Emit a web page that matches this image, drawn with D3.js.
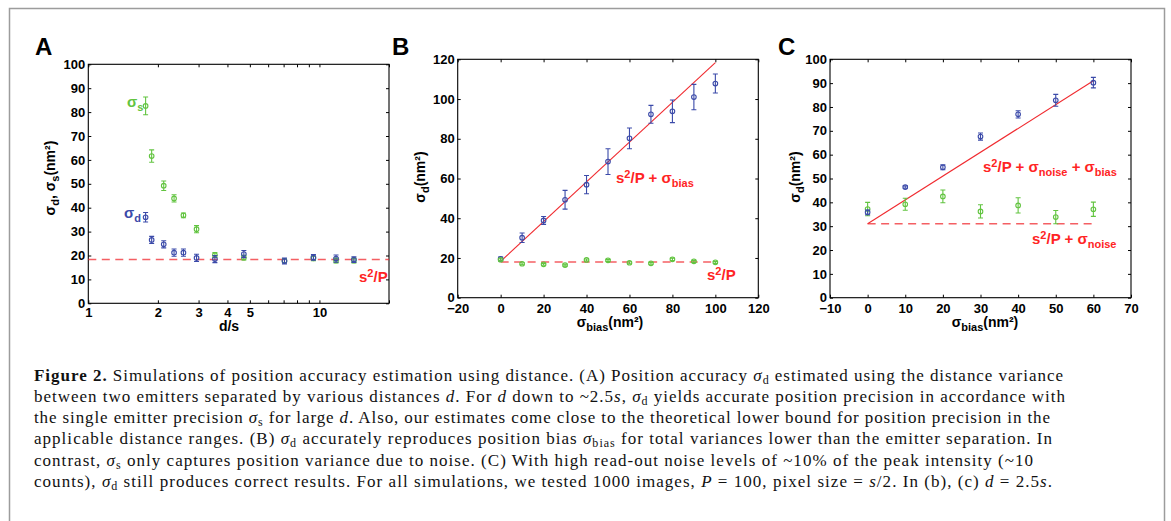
<!DOCTYPE html>
<html>
<head>
<meta charset="utf-8">
<script src="https://cdn.jsdelivr.net/npm/d3@7"></script>
<style>
  body { margin: 0; background: #fff; }
  text { font-family: "Liberation Sans", Arial, sans-serif; }
</style>
</head>
<body>
<svg id="fig" width="1171" height="521"></svg>
<script>
// ---- panel A : sigma vs emitter distance (log x)
var distA      = [1.77, 1.88, 2.12, 2.35, 2.58, 2.94, 3.53, 4.71, 7.06, 9.42, 11.8, 14.1];
var sigSA      = [82.6, 61.6, 49.2, 43.9, 36.8, 31.0, 20.2, 19.1, 17.8, 18.8, 17.9, 17.9];
var sigSAerr   = [3.7, 2.6, 2.0, 1.5, 1.0, 1.5, 1.0, 1.0, 0.8, 1.0, 1.0, 1.0];
var sigDA      = [36.0, 26.5, 24.7, 21.2, 21.2, 19.0, 18.5, 20.6, 17.7, 19.2, 18.7, 18.3];
var sigDAerr   = [2.0, 1.5, 1.5, 1.5, 1.5, 1.5, 1.5, 1.5, 1.2, 1.2, 1.5, 1.2];
var boundA     = 18.3;
var xTicksA    = [1, 2, 3, 4, 5, 6, 7, 8, 9, 10, 20];
var xLabelsA   = [1, 2, 3, 4, 5, 10];
var yTicksA    = [0, 10, 20, 30, 40, 50, 60, 70, 80, 90, 100];

// ---- panel B : sigma_d vs sigma_bias
var biasB      = [0, 10, 20, 30, 40, 50, 60, 70, 80, 90, 100];
var sigDB      = [19.5, 30.2, 38.9, 49.3, 56.9, 68.5, 80.2, 92.3, 93.8, 101.0, 107.8];
var sigDBerr   = [1.0, 2.4, 2.0, 4.7, 4.6, 6.5, 5.2, 4.5, 5.7, 6.4, 4.8];
var sigSB      = [19.1, 17.1, 16.8, 16.4, 19.0, 18.8, 17.6, 17.3, 19.3, 18.3, 17.8];
var sigSBerr   = [0.5, 0.5, 0.5, 0.5, 0.5, 0.5, 0.5, 0.5, 0.6, 0.5, 0.5];
var boundB     = 18.3;
var xTicksB    = [-20, 0, 20, 40, 60, 80, 100, 120];
var yTicksB    = [0, 20, 40, 60, 80, 100, 120];

// ---- panel C : with read-out noise
var biasC      = [0, 10, 20, 30, 40, 50, 60];
var sigDC      = [35.8, 46.4, 54.7, 67.6, 76.9, 82.8, 90.2];
var sigDCerr   = [1.0, 0.5, 1.0, 1.5, 1.5, 2.5, 2.2];
var sigSC      = [37.2, 39.2, 42.5, 36.2, 38.7, 33.8, 37.1];
var sigSCerr   = [2.8, 2.5, 2.7, 2.8, 3.2, 2.8, 3.0];
var boundC     = 31;
var xTicksC    = [-10, 0, 10, 20, 30, 40, 50, 60, 70];
var yTicksC    = [0, 10, 20, 30, 40, 50, 60, 70, 80, 90, 100];

var BLUE = "#3b4aa9", GREEN = "#62c440", RED = "#f02a2f", REDTXT = "#ff2424";

var svg = d3.select("#fig");

// frame around the figure
svg.append("rect").attr("x", 9.5).attr("y", 8.5).attr("width", 1155).attr("height", 530)
  .attr("fill", "none").attr("stroke", "#9c9c9c").attr("stroke-width", 1.5);

// text with sub/superscripts; parts: {t, sub, sup, i, b, fs}
function rich(txt, parts, subFs, subDy, supDy) {
  var cur = 0;
  parts.forEach(function(p) {
    if (typeof p === "string") p = { t: p };
    var target = p.sub ? subDy : (p.sup ? -supDy : 0);
    var ts = txt.append("tspan").text(p.t);
    if (target !== cur) ts.attr("dy", target - cur);
    cur = target;
    if (p.sub || p.sup) ts.style("font-size", subFs + "px");
    if (p.fs) ts.style("font-size", p.fs + "px");
    if (p.i) ts.style("font-style", "italic");
    if (p.b) ts.style("font-weight", "bold");
  });
  return txt;
}

function panel(o) {
  var g = svg.append("g");
  var x = o.x, y = o.y;
  var L = x.range()[0], R = x.range()[1], B = y.range()[0], T = y.range()[1];

  var fmt = o.xfmt || function(d) { return d3.format("")(d).replace("-", "\u2212"); };
  g.append("g").attr("transform", "translate(0," + B + ")")
    .call(d3.axisBottom(x).tickValues(o.xticks).tickSize(-3).tickSizeOuter(0).tickPadding(o.xpad).tickFormat(fmt));
  g.append("g").attr("transform", "translate(0," + T + ")")
    .call(d3.axisTop(x).tickValues(o.xticks).tickSize(-3).tickSizeOuter(0).tickFormat(""));
  g.append("g").attr("transform", "translate(" + L + ",0)")
    .call(d3.axisLeft(y).tickValues(o.yticks).tickSize(-3).tickSizeOuter(0).tickPadding(3));
  g.append("g").attr("transform", "translate(" + R + ",0)")
    .call(d3.axisRight(y).tickValues(o.yticks).tickSize(-3).tickSizeOuter(0).tickFormat(""));
  g.selectAll(".domain").remove();
  g.selectAll(".tick line").attr("stroke", "#000");
  g.selectAll(".tick text").style("font-size", "13px").style("font-weight", "bold")
    .style("font-family", "'Liberation Sans', Arial, sans-serif").attr("fill", "#000");
  g.append("rect").attr("x", L).attr("y", T).attr("width", R - L).attr("height", B - T)
    .attr("fill", "none").attr("stroke", "#000").attr("stroke-width", 1.1);

  // theory lines
  (o.lines || []).forEach(function(l) {
    g.append("line").attr("x1", x(l.x0)).attr("x2", x(l.x1)).attr("y1", y(l.y0)).attr("y2", y(l.y1))
      .attr("stroke", RED).attr("stroke-width", l.dash ? 1.6 : 1.1)
      .attr("stroke-opacity", l.dash ? 0.75 : 1)
      .attr("stroke-dasharray", l.dash ? "8,5.5" : null);
  });

  // series with error bars
  o.series.forEach(function(s) {
    var sg = g.append("g").attr("stroke", s.color).attr("fill", "none").attr("stroke-width", 1.1);
    var pts = s.xs.map(function(v, i) { return { x: v, y: s.ys[i], e: s.err[i] }; });
    sg.selectAll(".eb").data(pts).enter().append("path")
      .attr("d", function(d) {
        var cx = x(d.x), y0 = y(d.y - d.e), y1 = y(d.y + d.e);
        return "M" + cx + "," + y0 + "V" + y1 +
               "M" + (cx - 2.5) + "," + y0 + "H" + (cx + 2.5) +
               "M" + (cx - 2.5) + "," + y1 + "H" + (cx + 2.5);
      });
    sg.selectAll("circle").data(pts).enter().append("circle")
      .attr("cx", function(d) { return x(d.x); })
      .attr("cy", function(d) { return y(d.y); })
      .attr("r", 2.3);
  });

  // panel letter
  g.append("text").attr("x", o.letter[1]).attr("y", 55).text(o.letter[0])
    .style("font-size", "24px").style("font-weight", "bold");

  // axis titles
  rich(g.append("text").attr("text-anchor", "middle").attr("x", o.xlab[1]).attr("y", o.xlab[2])
    .style("font-size", "14px").style("font-weight", "bold"), o.xlab[0], 11, 4, 5);
  rich(g.append("text").attr("text-anchor", "middle")
    .attr("transform", "translate(" + o.ylab[1] + "," + o.ylab[2] + ") rotate(-90)")
    .style("font-size", "14px").style("font-weight", "bold"), o.ylab[0], 11, 4, 5);

  (o.notes || []).forEach(function(n) {
    rich(g.append("text").attr("x", n.x).attr("y", n.y).attr("fill", n.color)
      .style("font-size", "15px").style("font-weight", "bold"), n.parts, 11, 4, 5);
  });
}

var s2P = ["s", { t: "2", sup: true, fs: 11 }, "/P"];

// ---------- A
var xA = d3.scaleLog().domain([1, 20]).range([88.3, 389]);
var yA = d3.scaleLinear().domain([0, 100]).range([303.3, 64.3]);
panel({
  x: xA, y: yA, xticks: xTicksA, yticks: yTicksA, xpad: 4,
  xfmt: function(d) { return xLabelsA.indexOf(d) >= 0 ? d : ""; },
  lines: [{ x0: 1, x1: 20, y0: boundA, y1: boundA, dash: true }],
  series: [
    { xs: distA, ys: sigSA, err: sigSAerr, color: GREEN },
    { xs: distA, ys: sigDA, err: sigDAerr, color: BLUE }
  ],
  letter: ["A", 35],
  xlab: [["d/s"], 229, 330.5],
  ylab: [["\u03c3", { t: "d", sub: true }, ", \u03c3", { t: "s", sub: true }, "(nm\u00b2)"], 55, 178],
  notes: [
    { x: 359, y: 282, color: REDTXT, parts: s2P },
    { x: 127, y: 107, color: GREEN, parts: ["\u03c3", { t: "s", sub: true }] },
    { x: 124, y: 218, color: BLUE, parts: ["\u03c3", { t: "d", sub: true }] }
  ]
});

// ---------- B
var xB = d3.scaleLinear().domain([-20, 120]).range([457.7, 758.3]);
var yB = d3.scaleLinear().domain([0, 120]).range([297.7, 59.3]);
panel({
  x: xB, y: yB, xticks: xTicksB, yticks: yTicksB, xpad: 6,
  lines: [
    { x0: biasB[0], x1: biasB[biasB.length - 1], y0: boundB + biasB[0], y1: boundB + biasB[biasB.length - 1] },
    { x0: biasB[0], x1: biasB[biasB.length - 1], y0: 18, y1: 18, dash: true }
  ],
  series: [
    { xs: biasB, ys: sigDB, err: sigDBerr, color: BLUE },
    { xs: biasB, ys: sigSB, err: sigSBerr, color: GREEN }
  ],
  letter: ["B", 392],
  xlab: [["\u03c3", { t: "bias", sub: true }, "(nm\u00b2)"], 610, 327],
  ylab: [["\u03c3", { t: "d", sub: true }, "(nm\u00b2)"], 425, 177],
  notes: [
    { x: 616, y: 183, color: REDTXT, parts: s2P.concat([" + \u03c3", { t: "bias", sub: true }]) },
    { x: 707, y: 280, color: REDTXT, parts: s2P }
  ]
});

// ---------- C
var xC = d3.scaleLinear().domain([-10, 70]).range([830, 1131]);
var yC = d3.scaleLinear().domain([0, 100]).range([297.7, 59.3]);
panel({
  x: xC, y: yC, xticks: xTicksC, yticks: yTicksC, xpad: 6,
  lines: [
    { x0: biasC[0], x1: biasC[biasC.length - 1], y0: boundC + biasC[0], y1: boundC + biasC[biasC.length - 1] },
    { x0: biasC[0], x1: biasC[biasC.length - 1], y0: boundC, y1: boundC, dash: true }
  ],
  series: [
    { xs: biasC, ys: sigSC, err: sigSCerr, color: GREEN },
    { xs: biasC, ys: sigDC, err: sigDCerr, color: BLUE }
  ],
  letter: ["C", 778],
  xlab: [["\u03c3", { t: "bias", sub: true }, "(nm\u00b2)"], 985, 327],
  ylab: [["\u03c3", { t: "d", sub: true }, "(nm\u00b2)"], 800, 177],
  notes: [
    { x: 983, y: 172, color: REDTXT, parts: s2P.concat([" + \u03c3", { t: "noise", sub: true }, " + \u03c3", { t: "bias", sub: true }]) },
    { x: 1032, y: 244, color: REDTXT, parts: s2P.concat([" + \u03c3", { t: "noise", sub: true }]) }
  ]
});

// ---------- caption
var sd = [{ t: "\u03c3", i: true }, { t: "d", sub: true }];
var ss = [{ t: "\u03c3", i: true }, { t: "s", sub: true }];
var caption = [
  [[{ t: "Figure 2.", b: true }, " Simulations of position accuracy estimation using distance. (A) Position accuracy "].concat(sd, [" estimated using the distance variance"]), 1029],
  [["between two emitters separated by various distances ", { t: "d", i: true }, ". For ", { t: "d", i: true }, " down to ~2.5", { t: "s", i: true }, ", "].concat(sd, [" yields accurate position precision in accordance with"]), 1031],
  [["the single emitter precision "].concat(ss, [" for large ", { t: "d", i: true }, ". Also, our estimates come close to the theoretical lower bound for position precision in the"]), 1016],
  [["applicable distance ranges. (B) "].concat(sd, [" accurately reproduces position bias ", { t: "\u03c3", i: true }, { t: "bias", sub: true }, " for total variances lower than the emitter separation. In"]), 1018],
  [["contrast, "].concat(ss, [" only captures position variance due to noise. (C) With high read-out noise levels of ~10% of the peak intensity (~10"]), 999],
  [["counts), "].concat(sd, [" still produces correct results. For all simulations, we tested 1000 images, ", { t: "P", i: true }, " = 100, pixel size = ", { t: "s", i: true }, "/2. In (b), (c) ", { t: "d", i: true }, " = 2.5", { t: "s", i: true }, "."]), 1018]
];
caption.forEach(function(c, i) {
  var t = svg.append("text").attr("x", 34).attr("y", 380.5 + i * 21.3)
    .attr("textLength", c[1]).attr("lengthAdjust", "spacing")
    .style("font-family", "'Liberation Serif', 'Times New Roman', serif")
    .style("font-size", "17px").attr("fill", "#111");
  rich(t, c[0], 12, 3, 5);
});
</script>
</body>
</html>
